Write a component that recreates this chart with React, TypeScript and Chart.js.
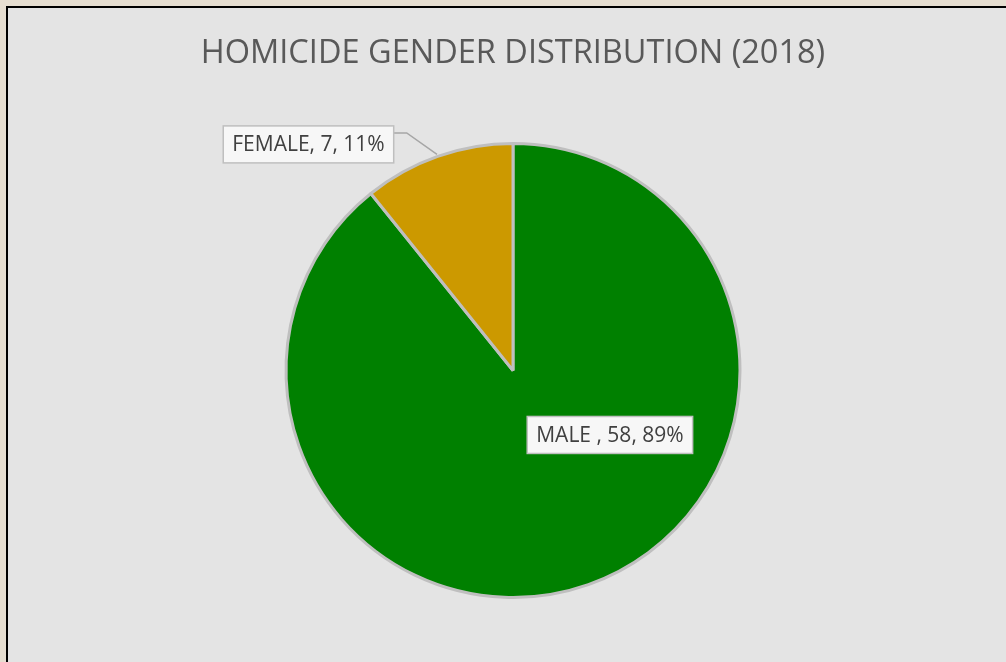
import React, { useEffect, useRef } from "react";
import { Chart, registerables } from "chart.js";

Chart.register(...registerables);

const categories = ["MALE ", "FEMALE"];
const values = [58, 7];
const sliceColors = ["#008000", "#CC9900"];
const titleText = "HOMICIDE GENDER DISTRIBUTION (2018)";

const labelPlugin = {
  id: "excelLabels",
  afterDatasetsDraw(chart: any, _args: any, opts: any) {
    const ctx = chart.ctx;
    const meta = chart.getDatasetMeta(0);
    const data = chart.data.datasets[0].data as number[];
    const total = data.reduce((a, b) => a + b, 0);
    meta.data.forEach((arc: any, i: number) => {
      const { x, y, startAngle, endAngle, outerRadius } = arc.getProps(
        ["x", "y", "startAngle", "endAngle", "outerRadius"],
        true
      );
      const pos = opts.positions[i];
      const text = `${chart.data.labels[i]}, ${data[i]}, ${Math.round((data[i] / total) * 100)}%`;
      ctx.save();
      ctx.font = opts.font;
      const tw = ctx.measureText(text).width;
      const bw = tw + 2 * opts.padX;
      const bh = opts.boxH;
      const cx = x + pos.fx * outerRadius;
      const cy = y + pos.fy * outerRadius;
      const bx = cx - bw / 2;
      const by = cy - bh / 2;
      if (pos.leader) {
        const mid = (startAngle + endAngle) / 2;
        const ex = x + Math.cos(mid) * (outerRadius + 2);
        const ey = y + Math.sin(mid) * (outerRadius + 2);
        ctx.strokeStyle = opts.leaderColor;
        ctx.lineWidth = 1.5;
        ctx.beginPath();
        ctx.moveTo(bx + bw, by + 7);
        ctx.lineTo(bx + bw + 13, by + 7);
        ctx.lineTo(ex, ey);
        ctx.stroke();
      }
      ctx.fillStyle = opts.boxFill;
      ctx.fillRect(bx, by, bw, bh);
      ctx.strokeStyle = opts.boxBorder;
      ctx.lineWidth = 1.5;
      ctx.strokeRect(bx, by, bw, bh);
      ctx.fillStyle = opts.color;
      ctx.textAlign = "center";
      ctx.textBaseline = "middle";
      ctx.fillText(text, cx, cy + 1);
      ctx.restore();
    });
  },
};

export default function App() {
  const ref = useRef<HTMLCanvasElement | null>(null);
  useEffect(() => {
    if (!ref.current) return;
    const chart = new Chart(ref.current, {
      type: "pie",
      data: {
        labels: categories,
        datasets: [
          {
            data: values,
            backgroundColor: sliceColors,
            borderColor: "#bfbfbf",
            borderWidth: 3,
          },
        ],
      },
      options: {
        responsive: false,
        animation: false,
        devicePixelRatio: 1,
        radius: 227,
        layout: { padding: { left: 20, right: 0, top: 0, bottom: 20 } },
        plugins: {
          legend: { display: false },
          tooltip: { enabled: false },
          title: {
            display: true,
            text: titleText,
            color: "#595959",
            font: { family: "Open Sans", size: 32.5, weight: "normal" },
            padding: { top: 34, bottom: 26 },
          },
          excelLabels: {
            font: "21px 'Open Sans'",
            color: "#404040",
            boxFill: "#f7f7f7",
            boxBorder: "#bfbfbf",
            leaderColor: "#a6a6a6",
            padX: 9,
            boxH: 37,
            positions: [
              { fx: 0.427, fy: 0.284, leader: false },
              { fx: -0.901, fy: -0.996, leader: true },
            ],
          },
        } as any,
      } as any,
      plugins: [labelPlugin],
    });
    return () => chart.destroy();
  }, []);

  return (
    <div
      style={{
        position: "fixed",
        left: 0,
        top: 0,
        width: 1006,
        height: 662,
        background: "#e6ded1",
        overflow: "hidden",
      }}
    >
      <div
        style={{
          position: "absolute",
          left: 6,
          top: 6,
          right: 0,
          bottom: 0,
          borderLeft: "2px solid #000",
          borderTop: "2px solid #000",
          background: "#e4e4e4",
        }}
      />
      <canvas
        ref={ref}
        width={1006}
        height={662}
        style={{ position: "absolute", left: 0, top: 0 }}
      />
    </div>
  );
}
